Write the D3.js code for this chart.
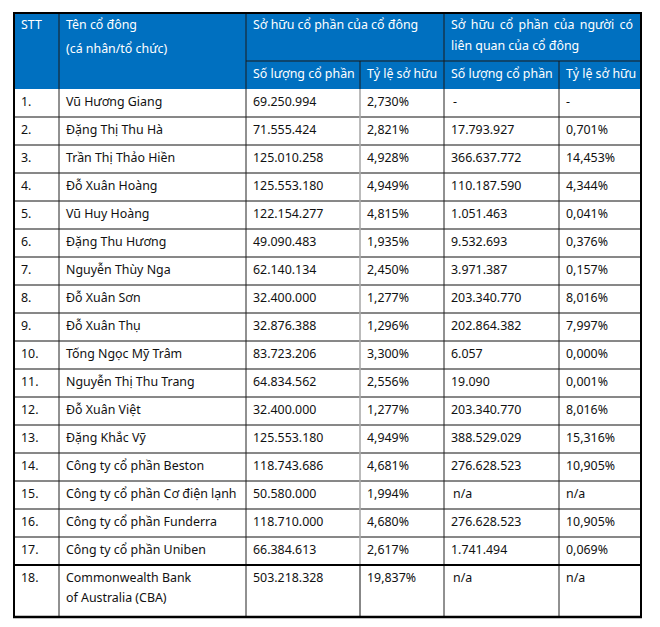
<!DOCTYPE html>
<html><head><meta charset="utf-8">
<script src="https://cdn.jsdelivr.net/npm/d3@7"></script>
<style>body{margin:0;background:#fff}svg{display:block}</style>
</head><body>
<script>
const stt = ["1.","2.","3.","4.","5.","6.","7.","8.","9.","10.","11.","12.","13.","14.","15.","16.","17.","18."];
const names = ["Vũ Hương Giang","Đặng Thị Thu Hà","Trần Thị Thảo Hiền","Đỗ Xuân Hoàng","Vũ Huy Hoàng","Đặng Thu Hương","Nguyễn Thùy Nga","Đỗ Xuân Sơn","Đỗ Xuân Thụ","Tống Ngọc Mỹ Trâm","Nguyễn Thị Thu Trang","Đỗ Xuân Việt","Đặng Khắc Vỹ","Công ty cổ phần Beston","Công ty cổ phần Cơ điện lạnh","Công ty cổ phần Funderra","Công ty cổ phần Uniben","Commonwealth Bank\nof Australia (CBA)"];
const shares = ["69.250.994","71.555.424","125.010.258","125.553.180","122.154.277","49.090.483","62.140.134","32.400.000","32.876.388","83.723.206","64.834.562","32.400.000","125.553.180","118.743.686","50.580.000","118.710.000","66.384.613","503.218.328"];
const sharePct = ["2,730%","2,821%","4,928%","4,949%","4,815%","1,935%","2,450%","1,277%","1,296%","3,300%","2,556%","1,277%","4,949%","4,681%","1,994%","4,680%","2,617%","19,837%"];
const relShares = ["-","17.793.927","366.637.772","110.187.590","1.051.463","9.532.693","3.971.387","203.340.770","202.864.382","6.057","19.090","203.340.770","388.529.029","276.628.523","n/a","276.628.523","1.741.494","n/a"];
const relPct = ["-","0,701%","14,453%","4,344%","0,041%","0,376%","0,157%","8,016%","7,997%","0,000%","0,001%","8,016%","15,316%","10,905%","n/a","10,905%","0,069%","n/a"];
const headTop = ["STT","Tên cổ đông\n(cá nhân/tổ chức)","Sở hữu cổ phần của cổ đông","Sở hữu cổ phần của người có\nliên quan của cổ đông"];
const headSub = ["Số lượng cổ phần","Tỷ lệ sở hữu","Số lượng cổ phần","Tỷ lệ sở hữu"];

const W = 660, H = 627;
const edges = [14, 59, 246, 360, 444, 559, 641];
const FONT = "'Noto Sans', sans-serif";
const FS = 12.4;
const blue = "#0070C0";
const headY0 = 13, headY1 = 61, headY2 = 89;
const rowH = 28, lineGap = 24;

const svg = d3.select("body").append("svg").attr("width", W).attr("height", H)
  .style("font-family", FONT).style("font-size", FS + "px");

const lines = names.map(n => n.split("\n").length);
const tops = [];
let acc = 0;
lines.forEach(l => { tops.push(acc); acc += rowH + (l - 1) * lineGap; });
const y = d3.scaleLinear().domain([0, acc]).range([headY2, headY2 + acc]);
const bottom = y(acc);
const rowTop = i => y(tops[i]);

svg.append("rect").attr("x", edges[0]).attr("y", headY0).attr("width", edges[6] - edges[0]).attr("height", headY2 - headY0).attr("fill", blue);

const pad = 7;
const hdr = svg.append("g").attr("fill", "#fff");
hdr.append("text").attr("x", edges[0] + pad).attr("y", headY0 + 16).text(headTop[0]);
headTop[1].split("\n").forEach((t, k) => hdr.append("text").attr("x", edges[1] + pad).attr("y", headY0 + 16 + k * 24).text(t));
hdr.append("text").attr("x", edges[2] + pad).attr("y", headY0 + 16).text(headTop[2]);
const g3 = headTop[3].split("\n");
{
  const words = g3[0].split(" ");
  const x0 = edges[4] + pad, x1 = edges[6] - 8;
  const ws = words.map(w => { const t = hdr.append("text").text(w); const l = t.node().getComputedTextLength(); t.remove(); return l; });
  const gap = (x1 - x0 - d3.sum(ws)) / (words.length - 1);
  let cx = x0;
  words.forEach((w, k) => { hdr.append("text").attr("x", cx).attr("y", headY0 + 16).text(w); cx += ws[k] + gap; });
  hdr.append("text").attr("x", x0).attr("y", headY0 + 37).text(g3[1]);
}
headSub.forEach((t, k) => hdr.append("text").attr("x", edges[2 + k] + pad).attr("y", headY1 + 17).text(t));

const hl = svg.append("g").attr("stroke", "#1a1a1a").attr("stroke-width", 1);
[1, 2, 4].forEach(k => hl.append("line").attr("x1", edges[k]).attr("x2", edges[k]).attr("y1", headY0).attr("y2", headY2));
[3, 5].forEach(k => hl.append("line").attr("x1", edges[k]).attr("x2", edges[k]).attr("y1", headY1).attr("y2", headY2));
hl.append("line").attr("x1", edges[2]).attr("x2", edges[6]).attr("y1", headY1).attr("y2", headY1);

const cols = [stt, names, shares, sharePct, relShares, relPct];
const body = svg.append("g").attr("fill", "#111");
names.forEach((_, i) => {
  cols.forEach((col, c) => {
    col[i].split("\n").forEach((t, k) => {
      const nudge = (c === 4 && (t === "n/a" || t === "-")) ? 2 : 0;
      body.append("text").attr("x", edges[c] + pad + nudge).attr("y", rowTop(i) + 16.5 + k * 20).text(t);
    });
  });
});

const gl = svg.append("g");
const last = names.length - 1;
names.forEach((_, i) => {
  if (i > 0 && i < last) gl.append("line").attr("x1", edges[0]).attr("x2", edges[6]).attr("y1", rowTop(i)).attr("y2", rowTop(i)).attr("stroke", "#111").attr("stroke-width", 1);
});
[1, 2, 4, 5].forEach(k => gl.append("line").attr("x1", edges[k]).attr("x2", edges[k]).attr("y1", headY2).attr("y2", bottom).attr("stroke", "#222").attr("stroke-width", 1));
gl.append("line").attr("x1", edges[3]).attr("x2", edges[3]).attr("y1", headY2).attr("y2", rowTop(last)).attr("stroke", "#aaa").attr("stroke-width", 1.6);
gl.append("line").attr("x1", edges[3]).attr("x2", edges[3]).attr("y1", rowTop(last)).attr("y2", bottom).attr("stroke", "#111").attr("stroke-width", 1);
gl.append("line").attr("x1", edges[0]).attr("x2", edges[6]).attr("y1", rowTop(last)).attr("y2", rowTop(last)).attr("stroke", "#000").attr("stroke-width", 1.8);

svg.append("rect").attr("x", edges[0]).attr("y", headY0).attr("width", edges[6] - edges[0]).attr("height", bottom - headY0)
  .attr("fill", "none").attr("stroke", "#000").attr("stroke-width", 2);
svg.append("line").attr("x1", edges[0] - 1).attr("x2", edges[6] + 1).attr("y1", bottom).attr("y2", bottom).attr("stroke", "#000").attr("stroke-width", 2.6);
</script>
</body></html>
